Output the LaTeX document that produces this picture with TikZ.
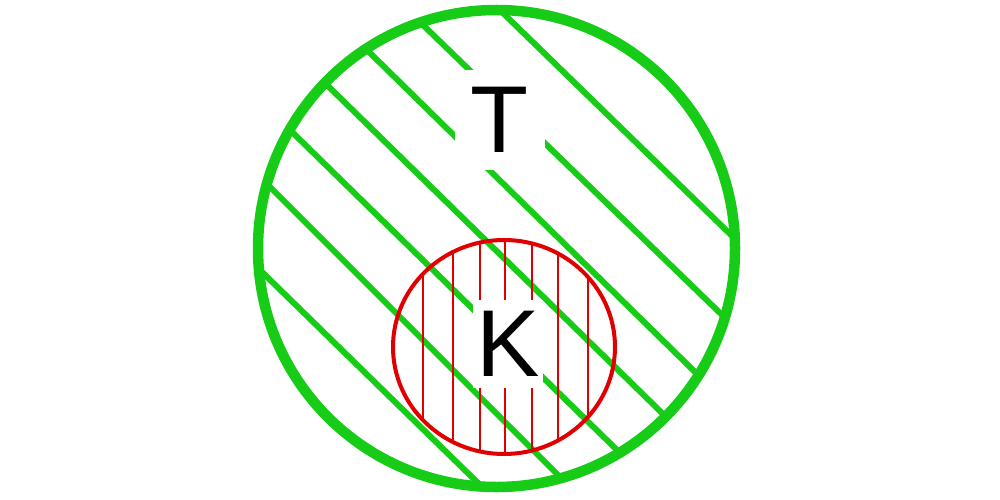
\documentclass[tikz,border=0pt]{standalone}
\usepackage{fontspec}
\setmainfont{Liberation Sans}
\usetikzlibrary{calc}
\definecolor{grn}{RGB}{22,204,22}
\definecolor{rd}{RGB}{225,0,0}
\tikzset{
  hatchg/.style={draw=grn, line width=6pt},
  hatchr/.style={draw=rd, line width=1.8pt},
  letter/.style={fill=white, inner sep=0pt, font=\fontsize{95}{95}\selectfont, text=black}
}
\begin{document}
\begin{tikzpicture}[x=1pt, y=-1pt]
\useasboundingbox (0,0) rectangle (1000,500);
\coordinate (gc) at (496.5,248.5);
\coordinate (rc) at (504,347);
% green hatch
\begin{scope}
  \clip (gc) circle[radius=238.5];
  \foreach \ax/\ay/\bx/\by in {505/15/728/232, 423/25/720/313, 367/50/693/370, 327/85/662/413, 290/130/617/450, 268/185/560/477, 262/272/477/482}{
    \draw[hatchg] ($(\ax,\ay)!-0.3!(\bx,\by)$) -- ($(\ax,\ay)!1.3!(\bx,\by)$);
  }
\end{scope}
\draw[draw=grn, line width=10.5pt] (gc) circle[radius=238.5];
% red hatch
\begin{scope}
  \clip (rc) ellipse[x radius=111, y radius=107];
  \foreach \xx in {423,453,480,505,532,558,588}{
    \draw[hatchr] (\xx,200) -- (\xx,500);
  }
\end{scope}
\draw[draw=rd, line width=4pt] (rc) ellipse[x radius=111, y radius=107];
\node[letter, minimum width=90pt, minimum height=100pt] (T) at (500,120) {T};
\node[letter, minimum width=70pt, minimum height=88pt] (K) at (508,344) {K};
\end{tikzpicture}
\end{document}
